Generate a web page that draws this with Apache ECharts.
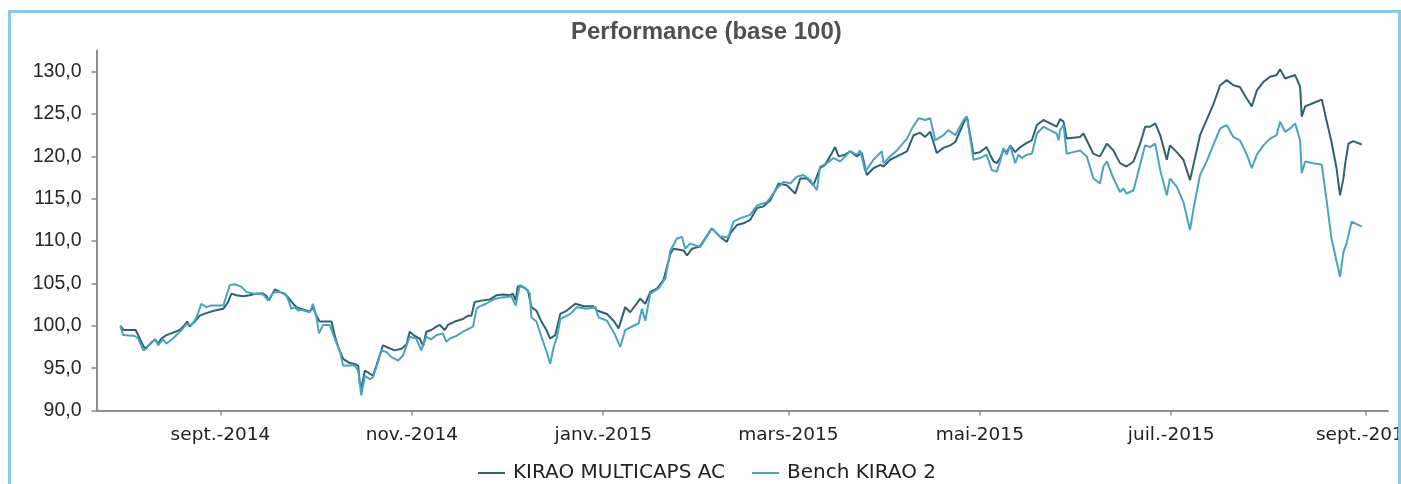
<!DOCTYPE html>
<html>
<head>
<meta charset="utf-8">
<title>Performance (base 100)</title>
<script src="https://cdn.jsdelivr.net/npm/echarts@6/dist/echarts.min.js"></script>
<style>
  html, body { margin: 0; padding: 0; background: #fff; overflow: hidden; }
  #chart { position: absolute; left: 0; top: 0; width: 1401px; height: 484px; }
  #cadre { position: absolute; left: 8px; top: 10px; width: 1393px; height: 520px;
           box-sizing: border-box; border: 3px solid #87cde9; pointer-events: none; }
</style>
</head>
<body>
<div id="chart"></div>
<div id="cadre"></div>
<script>
// jours comptés depuis le 1er sept. 2014
var baseDate = new Date(2014, 8, 1);
var xMinDay = -39.5;
var xMaxDay = 372.1;

var seriesNames = ['KIRAO MULTICAPS AC', 'Bench KIRAO 2'];
var moisFr = ['janv.', 'févr.', 'mars', 'avr.', 'mai', 'juin', 'juil.', 'août', 'sept.', 'oct.', 'nov.', 'déc.'];
var xTickDates = ['2014-09-01', '2014-11-01', '2015-01-01', '2015-03-01', '2015-05-01', '2015-07-01', '2015-09-01'];
var yTicks = [90, 95, 100, 105, 110, 115, 120, 125, 130];

var fundDays = [-31.9, -30.8, -27.0, -26.5, -25.2, -24.1, -22.5, -20.9, -19.9, -18.8, -17.2, -15.1, -13.0, -11.4, -10.6, -9.8, -8.2, -6.6, -4.5, -1.8,
  0.9, 2.4, 3.5, 5.1, 7.2, 9.3, 11.5, 13.6, 14.7, 15.5, 16.3, 17.3, 18.9, 20.5, 21.9, 23.2, 24.2, 25.8, 27.4, 28.5,
  29.5, 30.6, 31.6, 33.8, 35.4, 36.4, 37.5, 39.1, 41.2, 42.8, 43.9, 44.4, 44.9, 46.0, 47.0, 48.6, 49.7, 51.8, 52.9, 55.5,
  57.7, 59.3, 60.3, 61.9, 63.5, 64.6, 65.6, 67.2, 68.8, 69.9, 71.5, 72.5, 74.7, 77.3, 78.9, 80.0, 81.0, 83.7, 85.8, 87.9,
  90.1, 92.2, 93.2, 94.1, 94.8, 96.4, 98.0, 99.1, 100.7, 102.3, 103.9, 105.1, 106.7, 108.3, 110.4, 113.1, 115.8, 118.9, 120.0, 123.2,
  125.3, 126.9, 129.0, 130.6, 133.8, 135.4, 137.0, 139.1, 141.2, 143.4, 144.4, 147.6, 148.7, 150.3, 152.9, 156.6, 159.3, 161.4, 162.5, 164.6,
  166.7, 168.8, 171.0, 173.1, 175.2, 177.9, 180.5, 183.2, 184.8, 186.9, 189.0, 191.1, 192.7, 194.3, 195.9, 197.0, 199.1, 200.7, 202.8, 204.4,
  206.0, 208.1, 210.3, 211.3, 213.4, 215.6, 218.8, 220.9, 223.0, 224.6, 226.2, 228.3, 230.4, 232.6, 234.2, 236.8, 237.9, 240.0, 242.1, 244.2,
  245.3, 246.4, 247.4, 248.5, 249.5, 250.6, 251.7, 253.3, 254.9, 257.0, 258.6, 260.2, 262.3, 264.4, 266.5, 267.6, 268.7, 269.7, 271.8, 274.0,
  275.0, 276.1, 278.2, 280.3, 282.5, 284.6, 286.7, 288.8, 291.0, 293.1, 294.7, 296.3, 297.9, 299.5, 301.6, 302.6, 304.8, 306.9, 309.0, 310.1,
  312.2, 314.3, 316.4, 318.6, 320.7, 322.8, 324.9, 327.1, 328.7, 330.3, 332.4, 334.5, 336.6, 337.7, 339.3, 340.9, 342.5, 344.1, 344.6, 345.7,
  348.3, 351.0, 352.6, 354.1, 355.7, 356.8, 357.9, 358.4, 359.5, 361.0, 363.7];
var fundValues = [100.0, 99.5, 99.5, 99.6, 98.1, 97.3, 97.8, 98.4, 97.9, 98.5, 98.9, 99.2, 99.5, 100.1, 100.5, 99.9, 100.5, 101.2, 101.5, 101.8,
  102.0, 102.8, 103.8, 103.6, 103.5, 103.6, 103.8, 103.8, 103.5, 103.0, 103.6, 104.3, 104.0, 103.8, 103.2, 102.6, 102.2, 102.0, 101.8, 101.7,
  102.2, 101.2, 100.5, 100.5, 100.5, 98.9, 97.5, 96.1, 95.6, 95.5, 95.3, 93.2, 92.6, 94.7, 94.5, 94.1, 95.3, 97.7, 97.5, 97.1,
  97.3, 97.8, 99.3, 98.8, 98.5, 97.6, 99.3, 99.5, 99.9, 100.1, 99.5, 100.1, 100.5, 100.8, 101.2, 101.2, 102.8, 103.0, 103.1, 103.6,
  103.7, 103.6, 103.8, 103.0, 104.7, 104.6, 104.2, 102.2, 101.8, 100.5, 99.5, 98.5, 98.9, 101.4, 101.8, 102.6, 102.3, 102.3, 101.8, 101.4,
  100.6, 99.7, 102.2, 101.6, 103.2, 102.6, 104.0, 104.4, 105.4, 108.5, 109.1, 108.9, 108.3, 109.1, 109.4, 111.5, 110.5, 109.9, 110.9, 111.9,
  112.1, 112.5, 113.9, 114.1, 114.8, 116.8, 116.6, 115.6, 117.4, 117.4, 116.6, 118.6, 119.0, 120.0, 121.1, 120.0, 120.2, 120.6, 120.0, 120.4,
  117.8, 118.6, 119.0, 118.8, 119.6, 120.0, 120.6, 122.5, 122.8, 122.3, 122.9, 120.4, 121.0, 121.3, 121.7, 123.9, 124.7, 120.3, 120.5, 121.1,
  120.2, 119.4, 119.2, 119.8, 120.7, 120.5, 121.3, 120.5, 121.1, 121.6, 121.9, 123.7, 124.3, 123.9, 123.5, 124.4, 124.1, 122.1, 122.2, 122.3,
  122.7, 121.9, 120.3, 120.0, 121.5, 120.7, 119.2, 118.8, 119.4, 121.5, 123.5, 123.5, 123.9, 122.5, 119.6, 121.3, 120.5, 119.6, 117.2, 119.0,
  122.5, 124.3, 126.1, 128.4, 129.0, 128.4, 128.2, 126.8, 125.9, 127.8, 128.8, 129.4, 129.6, 130.3, 129.2, 129.4, 129.6, 128.2, 124.7, 125.9,
  126.3, 126.7, 124.1, 121.7, 118.6, 115.4, 117.4, 119.0, 121.5, 121.8, 121.4];

var benchDays = [-31.9, -31.0, -27.3, -26.2, -24.6, -23.6, -22.0, -20.6, -19.9, -18.3, -17.2, -15.1, -12.4, -10.8, -9.2, -7.6, -6.1, -4.5, -2.9, 0.9,
  3.0, 4.6, 6.7, 8.3, 10.4, 13.6, 15.2, 16.8, 18.9, 21.0, 22.1, 22.6, 23.7, 24.7, 25.8, 28.5, 29.5, 30.6, 31.4, 32.7,
  34.8, 36.4, 38.0, 39.1, 41.2, 42.8, 43.9, 44.9, 46.0, 47.6, 48.6, 49.7, 51.3, 52.9, 54.5, 56.6, 58.2, 60.3, 62.4, 64.0,
  65.6, 67.2, 68.8, 70.9, 72.0, 73.1, 75.2, 77.3, 79.4, 80.5, 81.6, 82.6, 84.7, 86.9, 89.0, 91.1, 92.7, 94.1, 95.4, 97.0,
  98.6, 99.1, 100.7, 102.3, 103.9, 105.1, 106.2, 107.3, 108.3, 111.5, 113.6, 116.8, 119.5, 120.5, 123.2, 125.8, 127.4, 129.0, 130.6, 133.3,
  134.3, 135.4, 137.0, 139.6, 141.8, 143.4, 145.5, 147.1, 148.1, 149.7, 152.9, 156.6, 159.3, 161.9, 163.5, 165.7, 168.8, 171.0, 174.2, 177.3,
  179.5, 181.6, 183.7, 185.8, 188.0, 190.1, 191.1, 193.3, 195.4, 197.5, 200.7, 202.8, 203.9, 205.5, 208.1, 209.7, 210.8, 211.3, 213.4, 215.6,
  218.8, 220.4, 222.5, 224.6, 226.2, 227.8, 230.4, 232.0, 234.2, 236.8, 237.9, 240.0, 242.1, 244.2, 245.8, 247.4, 248.5, 249.5, 250.6, 251.7,
  253.3, 254.3, 255.4, 257.0, 258.6, 260.2, 262.3, 264.4, 266.5, 267.1, 267.6, 268.7, 269.7, 271.8, 274.0, 276.1, 278.2, 280.3, 281.4, 282.5,
  284.6, 286.7, 287.8, 288.8, 291.0, 293.1, 294.7, 296.3, 297.9, 299.5, 301.6, 302.6, 304.8, 306.9, 309.0, 310.1, 312.2, 314.3, 316.4, 318.6,
  320.7, 322.8, 324.9, 327.1, 328.7, 330.3, 332.4, 334.5, 336.6, 337.7, 339.3, 340.9, 342.5, 344.1, 344.6, 345.7, 348.3, 351.0, 352.6, 354.1,
  356.8, 357.9, 358.9, 360.5, 363.7];
var benchValues = [100.0, 98.9, 98.8, 98.5, 97.1, 97.3, 98.1, 98.4, 97.7, 98.4, 97.9, 98.5, 99.5, 100.2, 100.1, 101.0, 102.6, 102.2, 102.4, 102.4,
  104.8, 104.9, 104.6, 104.0, 103.8, 103.7, 103.0, 103.9, 104.0, 103.6, 102.6, 102.0, 102.2, 101.8, 101.9, 101.6, 102.6, 101.0, 99.1, 100.1,
  100.1, 98.5, 97.1, 95.3, 95.3, 95.3, 94.7, 91.8, 94.1, 93.7, 93.9, 95.1, 97.1, 96.9, 96.3, 95.9, 96.5, 98.7, 98.5, 97.1,
  98.7, 98.4, 98.9, 99.1, 98.1, 98.5, 98.8, 99.3, 99.7, 99.9, 102.0, 102.3, 102.6, 103.1, 103.3, 103.4, 103.5, 102.4, 104.8, 104.5,
  103.8, 101.0, 100.5, 98.7, 97.0, 95.5, 97.5, 98.7, 100.8, 101.4, 102.2, 102.0, 102.2, 101.0, 100.6, 98.9, 97.5, 99.5, 99.8, 100.3,
  102.0, 100.6, 103.8, 104.4, 105.6, 108.9, 110.3, 110.5, 109.1, 109.7, 109.3, 111.5, 110.5, 110.5, 112.3, 112.7, 113.1, 114.2, 114.6, 116.2,
  117.0, 116.8, 117.6, 117.8, 117.2, 116.0, 118.8, 119.2, 119.8, 119.4, 120.6, 120.2, 120.7, 118.2, 119.6, 120.2, 120.6, 119.2, 120.0, 120.7,
  122.1, 123.3, 124.5, 124.3, 124.5, 121.9, 122.5, 123.1, 122.5, 124.3, 124.7, 119.6, 119.8, 120.2, 118.4, 118.2, 119.4, 121.0, 120.2, 121.3,
  119.2, 120.2, 119.8, 120.2, 120.3, 122.7, 123.5, 123.1, 122.7, 121.9, 123.1, 123.7, 120.3, 120.5, 120.7, 120.0, 117.4, 116.8, 118.8, 119.4,
  117.4, 115.8, 116.2, 115.6, 116.0, 119.0, 121.3, 121.1, 121.5, 118.4, 115.4, 117.4, 116.4, 114.6, 111.3, 113.8, 117.8, 119.4, 121.3, 123.3,
  123.7, 122.3, 121.9, 120.2, 118.6, 120.2, 121.3, 122.1, 122.5, 124.1, 122.9, 123.3, 123.9, 121.9, 118.0, 119.4, 119.2, 119.0, 114.6, 110.3,
  105.8, 108.7, 109.7, 112.3, 111.7];

function dayToTime(d) {
  return baseDate.getTime() + d * 86400000;
}
function toPoints(days, values) {
  var pts = [];
  for (var i = 0; i < days.length; i++) {
    pts.push([dayToTime(days[i]), values[i]]);
  }
  return pts;
}
function parseDay(s) {
  var p = s.split('-');
  return new Date(+p[0], +p[1] - 1, +p[2]).getTime();
}

var xTicks = xTickDates.map(parseDay);
var axisGris = '#8f8f8f';

var chart = echarts.init(document.getElementById('chart'), null, { renderer: 'canvas' });
chart.setOption({
  animation: false,
  backgroundColor: '#fff',
  title: {
    text: 'Performance (base 100)',
    left: 566,
    top: 15,
    textStyle: { fontFamily: 'Liberation Sans', fontSize: 24, fontWeight: 'bold', color: '#505050' }
  },
  legend: {
    data: seriesNames,
    left: 473,
    top: 458,
    icon: 'rect',
    itemWidth: 27,
    itemHeight: 2,
    itemGap: 27,
    textStyle: { fontFamily: 'DejaVu Sans', fontSize: 20, color: '#222', padding: [0, 0, 0, 3] }
  },
  grid: { left: 96.5, right: 13, top: 50.5, bottom: 73.5, containLabel: false, outerBoundsMode: 'none' },
  xAxis: {
    // axe en millisecondes, graduations posées sur les 1ers du mois
    type: 'value',
    min: dayToTime(xMinDay),
    max: dayToTime(xMaxDay),
    axisLine: { show: true, lineStyle: { color: axisGris, width: 2 } },
    axisTick: { show: true, length: 5, customValues: xTicks, lineStyle: { color: axisGris, width: 1.5 } },
    axisLabel: {
      customValues: xTicks,
      margin: 15,
      fontFamily: 'DejaVu Sans',
      fontSize: 18.5,
      color: '#222',
      hideOverlap: false,
      formatter: function (v) {
        var d = new Date(v);
        return moisFr[d.getMonth()] + '-' + d.getFullYear();
      }
    },
    splitLine: { show: false }
  },
  yAxis: {
    type: 'value',
    min: 90,
    max: 132.5,
    interval: 5,
    axisLine: { show: true, lineStyle: { color: axisGris, width: 2 } },
    axisTick: { show: true, length: 5, customValues: yTicks, lineStyle: { color: axisGris, width: 1.5 } },
    axisLabel: {
      customValues: yTicks,
      margin: 15,
      fontFamily: 'Liberation Sans',
      fontSize: 19.5,
      color: '#262626',
      formatter: function (v) {
        if (v % 5 !== 0) return '';
        return v.toFixed(1).replace('.', ',');
      }
    },
    splitLine: { show: false }
  },
  series: [{
    name: seriesNames[0],
    type: 'line',
    symbol: 'none',
    showSymbol: false,
    color: '#2d6173',
    lineStyle: { width: 2, color: '#2d6173' },
    data: toPoints(fundDays, fundValues)
  }, {
    name: seriesNames[1],
    type: 'line',
    symbol: 'none',
    showSymbol: false,
    color: '#4aa3c0',
    lineStyle: { width: 2, color: '#4aa3c0' },
    data: toPoints(benchDays, benchValues)
  }]
});
</script>
</body>
</html>
